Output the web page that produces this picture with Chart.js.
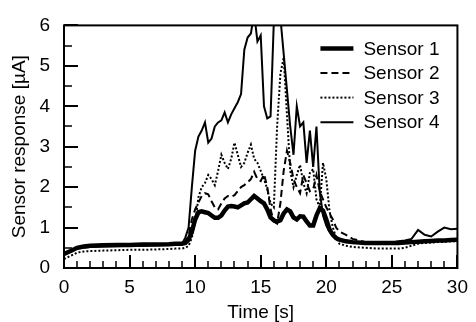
<!DOCTYPE html>
<html>
<head>
<meta charset="utf-8">
<script src="https://cdn.jsdelivr.net/npm/chart.js@4.4.0/dist/chart.umd.min.js"></script>
<style>
    html, body { margin: 0; padding: 0; background: #fff; }
    canvas { display: block; }
</style>
</head>
<body>
<canvas id="sensor-canvas" width="476" height="322"></canvas>
<script>
(function() {

    // time axis [s], shared by all sensors
    var time = [
        0, 0.5, 1, 1.5, 2, 3, 4, 5, 6, 7, 8, 8.5,
        9, 9.25, 9.5, 9.75, 10, 10.25, 10.5, 10.75, 11, 11.25, 11.5, 11.75,
        12, 12.25, 12.5, 12.75, 13, 13.25, 13.5, 13.75, 14, 14.25, 14.5, 14.75,
        15, 15.25, 15.5, 15.75, 16, 16.25, 16.5, 16.75, 17, 17.25, 17.5, 17.75,
        18, 18.25, 18.5, 18.75, 19, 19.25, 19.5, 19.75, 20, 20.25, 20.5, 20.75, 21,
        21.5, 22, 23, 24, 25, 25.5, 26, 26.5, 27, 27.5, 28, 28.5, 29, 29.5, 30
    ];

    var sensor1 = [
        0.35, 0.42, 0.50, 0.53, 0.55, 0.56, 0.57, 0.57, 0.58, 0.58, 0.59, 0.60,
        0.60, 0.62, 0.70, 0.90, 1.20, 1.38, 1.40, 1.38, 1.36, 1.30, 1.24, 1.24,
        1.30, 1.42, 1.52, 1.53, 1.52, 1.50, 1.55, 1.60, 1.62, 1.70, 1.78, 1.72,
        1.65, 1.60, 1.45, 1.25, 1.18, 1.15, 1.18, 1.35, 1.45, 1.40, 1.25, 1.20,
        1.28, 1.27, 1.15, 1.05, 1.05, 1.30, 1.48, 1.42, 1.20, 0.95, 0.82, 0.74, 0.70,
        0.66, 0.64, 0.62, 0.62, 0.62, 0.62, 0.63, 0.64, 0.65, 0.66, 0.67, 0.68, 0.68, 0.69, 0.70
    ];

    var sensor2 = [
        0.35, 0.42, 0.48, 0.52, 0.54, 0.55, 0.55, 0.56, 0.56, 0.57, 0.57, 0.58,
        0.60, 0.65, 0.80, 1.20, 1.45, 1.62, 1.78, 1.85, 1.82, 1.65, 1.50, 1.45,
        1.60, 1.72, 1.78, 1.76, 1.80, 1.90, 2.00, 2.05, 2.12, 2.20, 2.38, 2.20,
        2.15, 2.32, 2.00, 1.45, 1.15, 1.10, 1.60, 2.40, 2.90, 2.60, 2.20, 2.00,
        1.85, 2.30, 2.10, 1.90, 1.95, 2.30, 1.90, 1.70, 1.50, 1.35, 1.20, 1.00, 0.90,
        0.82, 0.72, 0.64, 0.62, 0.60, 0.60, 0.62, 0.64, 0.65, 0.66, 0.67, 0.68, 0.68, 0.69, 0.70
    ];

    var sensor3 = [
        0.22, 0.30, 0.38, 0.41, 0.42, 0.43, 0.44, 0.45, 0.45, 0.46, 0.47, 0.48,
        0.48, 0.50, 0.55, 0.75, 1.10, 1.75, 2.00, 2.10, 2.30, 2.20, 2.05, 2.40,
        2.80, 2.60, 2.45, 2.70, 3.10, 2.80, 2.50, 2.60, 2.85, 3.05, 2.70, 2.60,
        2.40, 2.20, 1.95, 1.60, 1.50, 3.50, 4.80, 5.20, 3.80, 2.40, 2.00, 2.30,
        2.55, 2.10, 1.85, 2.35, 2.45, 1.70, 1.50, 2.60, 2.20, 1.40, 1.00, 0.75, 0.60,
        0.55, 0.52, 0.50, 0.48, 0.48, 0.48, 0.50, 0.55, 0.60, 0.62, 0.63, 0.64, 0.65, 0.66, 0.66
    ];

    var sensor4 = [
        0.35, 0.42, 0.48, 0.50, 0.52, 0.53, 0.54, 0.55, 0.55, 0.56, 0.57, 0.58,
        0.60, 0.75, 1.00, 2.00, 2.90, 3.25, 3.40, 3.60, 3.10, 3.20, 3.50, 3.60,
        3.65, 3.85, 3.60, 3.80, 3.95, 4.10, 4.30, 5.40, 5.70, 5.80, 6.30, 5.60,
        5.75, 4.00, 3.70, 3.75, 6.10, 7.50, 6.20, 5.30, 4.40, 3.50, 2.80, 4.00,
        3.50, 3.60, 2.60, 3.40, 2.50, 3.50, 1.90, 1.30, 1.05, 0.90, 0.80, 0.72, 0.70,
        0.66, 0.64, 0.62, 0.62, 0.63, 0.66, 0.68, 0.72, 0.94, 0.82, 0.78, 0.90, 1.00, 0.96, 0.97
    ];

    var labels = ['Sensor 1', 'Sensor 2', 'Sensor 3', 'Sensor 4'];
    var series = [sensor1, sensor2, sensor3, sensor4];

    var style = [
        { width: 4.5, dash: [] },
        { width: 2, dash: [7, 4] },
        { width: 2, dash: [2, 2] },
        { width: 2, dash: [] }
    ];

    var fontFamily = "'Liberation Sans', Arial, sans-serif";
    var fontSize = 19;

    function toPoints(values) {
        return values.map(function(v, i) { return { x: time[i], y: v }; });
    }

    /**
     * Frame, inward ticks and legend
     */
    var framePlugin = {
        id: 'frame',
        afterDraw: function(chart) {
            var ctx = chart.ctx;
            var area = chart.chartArea;
            var xs = chart.scales.x;
            var ys = chart.scales.y;
            ctx.save();
            ctx.strokeStyle = '#000';
            ctx.lineWidth = 2;
            ctx.strokeRect(area.left, area.top, area.right - area.left, area.bottom - area.top);

            // y ticks every 0.5
            for (var v = 0; v <= 6; v += 0.5) {
                var py = Math.round(ys.getPixelForValue(v));
                var major = (v % 1 === 0);
                ctx.lineWidth = major ? 2 : 1.5;
                ctx.beginPath();
                ctx.moveTo(area.left, py);
                ctx.lineTo(area.left + (major ? 14 : 8), py);
                ctx.stroke();
            }
            // x ticks every 1 s
            for (var t = 0; t <= 30; t += 1) {
                var px = Math.round(xs.getPixelForValue(t));
                var majorX = (t % 5 === 0);
                ctx.lineWidth = majorX ? 2 : 1.5;
                ctx.beginPath();
                ctx.moveTo(px, area.bottom);
                ctx.lineTo(px, area.bottom - (majorX ? 13 : 7));
                ctx.stroke();
            }

            // legend
            ctx.font = fontSize + 'px ' + fontFamily;
            ctx.textBaseline = 'middle';
            ctx.fillStyle = '#000';
            chart.data.datasets.forEach(function(ds, i) {
                var y = area.top + 23 + i * 24.6;
                ctx.lineWidth = ds.borderWidth;
                ctx.setLineDash(ds.borderDash || []);
                ctx.beginPath();
                ctx.moveTo(area.right - 137, y);
                ctx.lineTo(area.right - 104, y);
                ctx.stroke();
                ctx.setLineDash([]);
                ctx.fillText(ds.label, area.right - 94, y + 1);
            });
            ctx.restore();
        }
    };

    var ctx = document.getElementById('sensor-canvas').getContext('2d');

    new Chart(ctx, {
        type: 'line',
        data: {
            datasets: series.map(function(values, i) {
                return {
                    label: labels[i],
                    data: toPoints(values),
                    borderColor: '#000',
                    backgroundColor: '#000',
                    borderWidth: style[i].width,
                    borderDash: style[i].dash,
                    pointRadius: 0,
                    tension: 0,
                    fill: false
                };
            })
        },
        options: {
            responsive: false,
            animation: false,
            devicePixelRatio: 1,
            layout: { padding: { top: 20, right: 13, bottom: 0, left: 0 } },
            plugins: {
                legend: { display: false },
                tooltip: { enabled: false }
            },
            scales: {
                x: {
                    type: 'linear',
                    min: 0,
                    max: 30,
                    grid: { display: false, drawTicks: false },
                    border: { display: false },
                    ticks: {
                        stepSize: 5,
                        padding: 8,
                        color: '#000',
                        maxRotation: 0,
                        font: { family: fontFamily, size: fontSize }
                    },
                    title: {
                        display: true,
                        text: 'Time [s]',
                        color: '#000',
                        padding: { top: 0, bottom: -2 },
                        font: { family: fontFamily, size: fontSize }
                    },
                    afterFit: function(scale) { scale.height = 54; }
                },
                y: {
                    min: 0,
                    max: 6,
                    grid: { display: false, drawTicks: false },
                    border: { display: false },
                    ticks: {
                        stepSize: 1,
                        padding: 14,
                        color: '#000',
                        font: { family: fontFamily, size: fontSize }
                    },
                    title: {
                        display: true,
                        text: 'Sensor response [µA]',
                        color: '#000',
                        padding: { top: 8, bottom: 0 },
                        font: { family: fontFamily, size: fontSize }
                    },
                    afterFit: function(scale) { scale.width = 64; }
                }
            }
        },
        plugins: [framePlugin]
    });

})()
</script>
</body>
</html>
